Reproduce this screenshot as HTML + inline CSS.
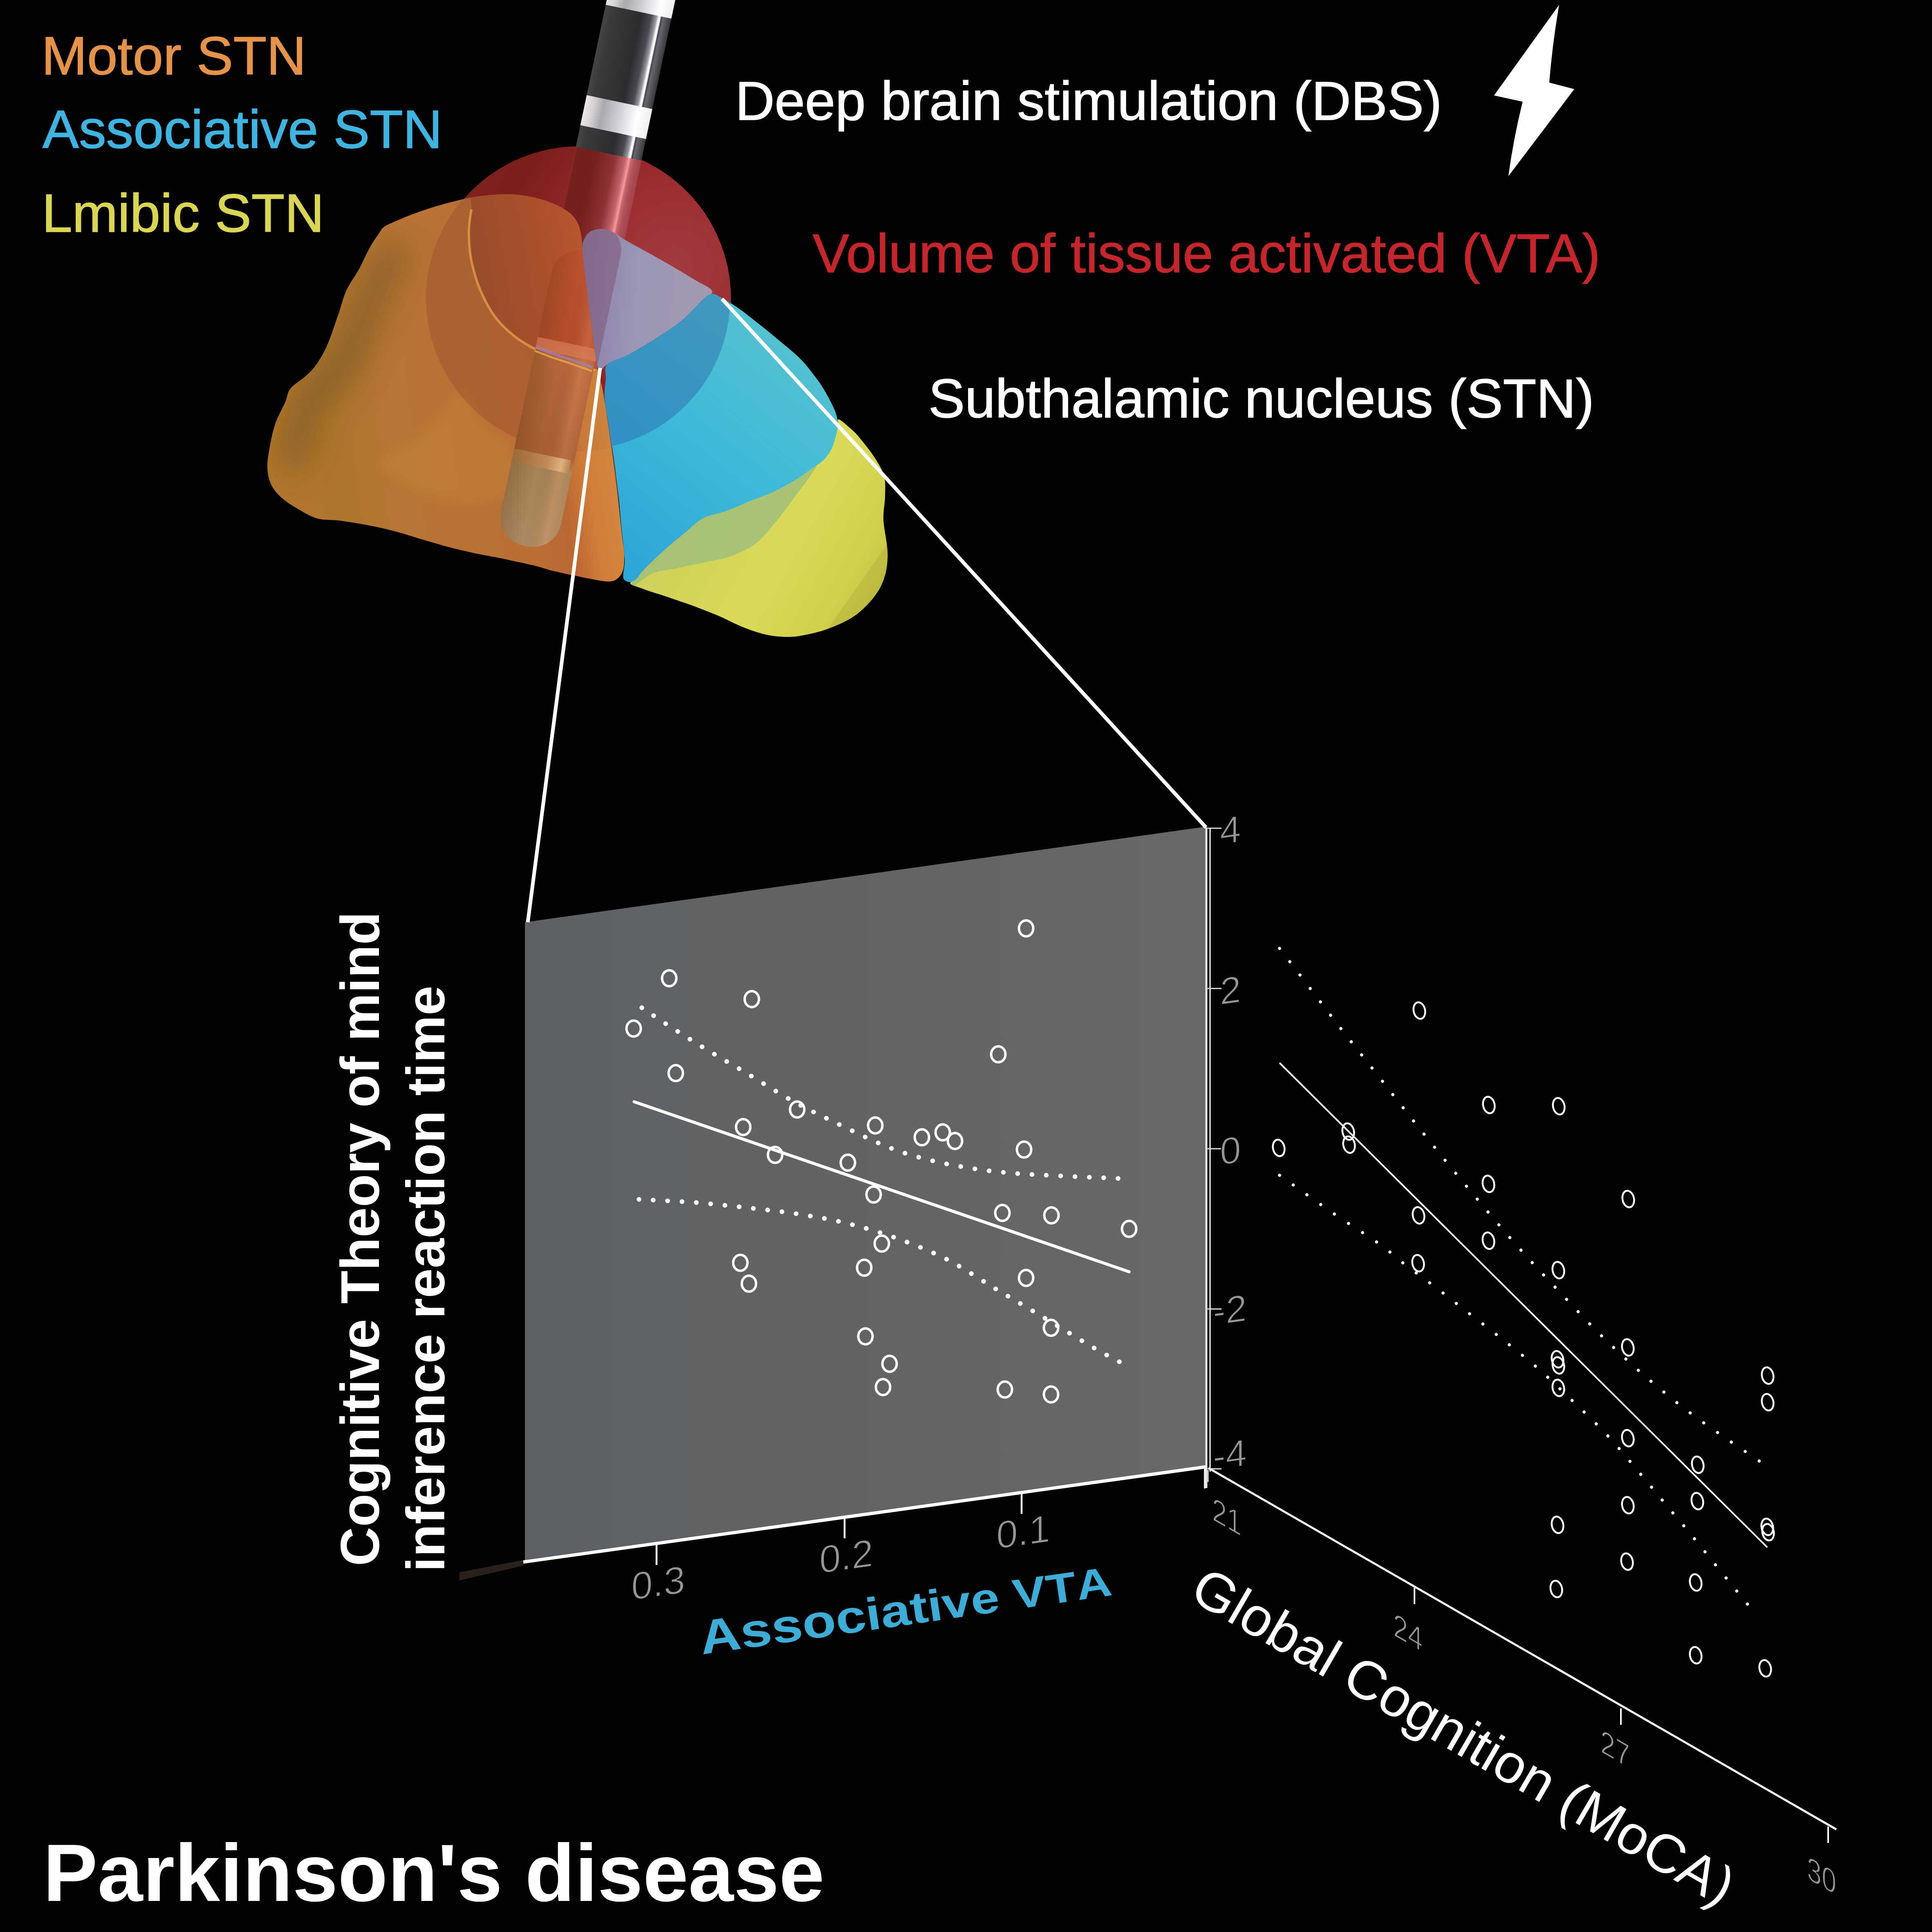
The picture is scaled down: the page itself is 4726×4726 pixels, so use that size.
<!DOCTYPE html>
<html><head><meta charset="utf-8"><title>Graphical abstract</title>
<style>
html,body{margin:0;padding:0;background:#000;}
body{width:4726px;height:4726px;overflow:hidden;font-family:"Liberation Sans",sans-serif;}
svg{display:block;}
text{font-family:"Liberation Sans",sans-serif;}
</style></head><body>
<svg width="4726" height="4726" viewBox="0 0 4726 4726">
<rect width="4726" height="4726" fill="#020202"/>
<defs>
<linearGradient id="gPanel" x1="0" y1="0" x2="1" y2="0"><stop offset="0" stop-color="#5E6163"/><stop offset="0.5" stop-color="#626365"/><stop offset="1" stop-color="#676869"/></linearGradient>
<radialGradient id="gSphere" gradientUnits="userSpaceOnUse" cx="1650" cy="650" r="620"><stop offset="0" stop-color="#A23A42"/><stop offset="0.35" stop-color="#9C2C2E"/><stop offset="0.7" stop-color="#7A1E1C"/><stop offset="1" stop-color="#842422"/></radialGradient>
<linearGradient id="gShaft" gradientUnits="userSpaceOnUse" x1="-81" y1="0" x2="83" y2="0"><stop offset="0" stop-color="#454547"/><stop offset="0.12" stop-color="#3A3A3C"/><stop offset="0.55" stop-color="#2C2C2F"/><stop offset="0.70" stop-color="#4A4A50"/><stop offset="0.78" stop-color="#9A9AA6"/><stop offset="0.815" stop-color="#FFFFFF"/><stop offset="0.835" stop-color="#F4F4FF"/><stop offset="0.85" stop-color="#404046"/><stop offset="0.88" stop-color="#66666E"/><stop offset="1" stop-color="#38383C"/></linearGradient>
<linearGradient id="gBand" gradientUnits="userSpaceOnUse" x1="-81" y1="0" x2="83" y2="0"><stop offset="0" stop-color="#ECE8E8"/><stop offset="0.12" stop-color="#D8D4D6"/><stop offset="0.28" stop-color="#A9A9AE"/><stop offset="0.55" stop-color="#D2D2DA"/><stop offset="0.8" stop-color="#FFFFFF"/><stop offset="1" stop-color="#EEEEEE"/></linearGradient>
<linearGradient id="gShaftRed" gradientUnits="userSpaceOnUse" x1="-81" y1="0" x2="83" y2="0"><stop offset="0" stop-color="#8A2C28"/><stop offset="0.03" stop-color="#74201E"/><stop offset="0.3" stop-color="#74201E"/><stop offset="0.6" stop-color="#8E3236"/><stop offset="0.76" stop-color="#C4646A"/><stop offset="0.82" stop-color="#F49C9E"/><stop offset="0.845" stop-color="#C86870"/><stop offset="0.9" stop-color="#B0525A"/><stop offset="1" stop-color="#A2424A"/></linearGradient>
<linearGradient id="gCone" gradientUnits="userSpaceOnUse" x1="1430" y1="700" x2="1740" y2="720"><stop offset="0" stop-color="#8E7FA6"/><stop offset="0.4" stop-color="#9A96B6"/><stop offset="1" stop-color="#A59AAE"/></linearGradient>
<linearGradient id="gBlue" gradientUnits="userSpaceOnUse" x1="1500" y1="1350" x2="1950" y2="800"><stop offset="0" stop-color="#2FA5D6"/><stop offset="0.5" stop-color="#3FB9DA"/><stop offset="1" stop-color="#55C3CE"/></linearGradient>
<linearGradient id="gYellow" gradientUnits="userSpaceOnUse" x1="1700" y1="1250" x2="2150" y2="1500"><stop offset="0" stop-color="#CFD258"/><stop offset="0.45" stop-color="#DADA5A"/><stop offset="0.8" stop-color="#D0D04E"/><stop offset="1" stop-color="#C2C244"/></linearGradient>
<linearGradient id="gOrange" gradientUnits="userSpaceOnUse" x1="700" y1="900" x2="1500" y2="800"><stop offset="0" stop-color="#B27630"/><stop offset="0.12" stop-color="#AE7530"/><stop offset="0.3" stop-color="#B87535"/><stop offset="0.7" stop-color="#BA6E34"/><stop offset="1" stop-color="#BC5A30"/></linearGradient>
<linearGradient id="gOrangeL" gradientUnits="userSpaceOnUse" x1="640" y1="0" x2="1000" y2="0"><stop offset="0" stop-color="#6E5A1E" stop-opacity="0.0"/><stop offset="0.25" stop-color="#6E5A1E" stop-opacity="0.42"/><stop offset="0.6" stop-color="#8A6A24" stop-opacity="0.15"/><stop offset="1" stop-color="#8A6A24" stop-opacity="0"/></linearGradient>
<linearGradient id="gInner" gradientUnits="userSpaceOnUse" x1="1150" y1="700" x2="1450" y2="650"><stop offset="0" stop-color="#8E4428" stop-opacity="0.75"/><stop offset="0.6" stop-color="#A84A2A" stop-opacity="0.7"/><stop offset="1" stop-color="#C0552E" stop-opacity="0.6"/></linearGradient>
<linearGradient id="gCapsX" gradientUnits="userSpaceOnUse" x1="-76" y1="0" x2="74" y2="0"><stop offset="0" stop-color="#5A3A10" stop-opacity="0.28"/><stop offset="0.45" stop-color="#5A3A10" stop-opacity="0.0"/><stop offset="0.8" stop-color="#FFB080" stop-opacity="0.22"/><stop offset="1" stop-color="#FFB080" stop-opacity="0.05"/></linearGradient>
<linearGradient id="gCapsBand" gradientUnits="userSpaceOnUse" x1="-76" y1="0" x2="66" y2="0"><stop offset="0" stop-color="#9A6A38"/><stop offset="0.6" stop-color="#C08A55"/><stop offset="0.85" stop-color="#E0B080"/><stop offset="1" stop-color="#B88450"/></linearGradient>
<linearGradient id="gCaps" gradientUnits="userSpaceOnUse" x1="0" y1="628" x2="0" y2="1365"><stop offset="0" stop-color="#BE512E"/><stop offset="0.31" stop-color="#B64C2C"/><stop offset="0.37" stop-color="#B8663A"/><stop offset="0.69" stop-color="#A85E34"/><stop offset="0.735" stop-color="#A68358"/><stop offset="1" stop-color="#AE8A62"/></linearGradient>
<clipPath id="cSphere"><circle cx="1416" cy="730" r="372"/></clipPath>
<clipPath id="cCone"><path d="M1425,600C1426,589 1429,586 1432,580C1435,574 1439,569 1445,566C1451,563 1461,560 1470,560C1479,560 1490,563 1500,568C1510,573 1512,577 1531,588C1550,599 1586,618 1614,634C1642,650 1676,670 1697,683C1718,696 1739,703 1742,712C1745,721 1729,723 1717,735C1705,747 1688,767 1670,782C1652,797 1632,810 1610,824C1588,838 1561,855 1540,866C1519,877 1498,884 1486,891C1474,898 1474,906 1470,905C1466,904 1462,902 1459,887C1456,872 1452,839 1449,814C1446,789 1442,764 1439,736C1436,708 1430,671 1428,648C1426,625 1424,611 1425,600Z"/></clipPath>
<clipPath id="cYellow"><path d="M2052,1026C2057,1027 2070,1039 2078,1046C2086,1053 2091,1057 2101,1069C2111,1081 2130,1104 2140,1120C2150,1136 2159,1150 2163,1166C2167,1182 2165,1196 2165,1213C2165,1230 2160,1252 2161,1271C2162,1290 2167,1313 2169,1329C2171,1345 2172,1355 2171,1368C2170,1381 2169,1394 2165,1407C2161,1420 2156,1434 2148,1446C2140,1458 2131,1470 2120,1481C2109,1492 2098,1502 2082,1512C2066,1522 2042,1532 2023,1539C2004,1546 1981,1551 1965,1554C1949,1557 1942,1558 1926,1558C1910,1558 1887,1556 1868,1551C1849,1546 1829,1539 1810,1531C1791,1523 1772,1512 1752,1504C1732,1496 1712,1488 1693,1481C1674,1474 1654,1468 1635,1461C1616,1454 1592,1448 1577,1442C1562,1436 1545,1432 1542,1428C1539,1424 1552,1421 1558,1415C1564,1409 1564,1404 1577,1391C1590,1378 1618,1352 1635,1337C1652,1322 1668,1310 1682,1298C1696,1286 1706,1275 1721,1267C1736,1259 1753,1258 1771,1252C1789,1246 1810,1236 1829,1228C1848,1220 1868,1214 1888,1205C1908,1196 1930,1184 1946,1174C1962,1164 1973,1155 1985,1147C1997,1139 2008,1132 2016,1124C2024,1116 2030,1106 2035,1096C2040,1086 2042,1074 2045,1065C2048,1056 2049,1046 2050,1040C2051,1034 2047,1025 2052,1026Z"/></clipPath>
<clipPath id="cBlue"><path d="M1486,891C1496,881 1519,877 1540,866C1561,855 1588,838 1610,824C1632,810 1652,797 1670,782C1688,767 1705,746 1717,735C1729,724 1732,720 1740,719C1748,718 1755,723 1768,730C1781,737 1803,751 1819,763C1835,775 1850,788 1866,800C1882,812 1896,825 1912,838C1928,851 1944,864 1959,879C1974,894 1989,915 2001,931C2013,947 2021,962 2029,977C2037,992 2044,1006 2047,1019C2050,1032 2052,1044 2050,1056C2048,1068 2043,1083 2038,1094C2033,1105 2027,1114 2020,1122C2013,1130 2006,1136 1996,1145C1986,1154 1973,1164 1959,1173C1945,1182 1928,1189 1912,1196C1896,1203 1882,1209 1866,1215C1850,1221 1834,1227 1819,1233C1804,1239 1788,1246 1773,1252C1758,1258 1740,1258 1726,1266C1712,1274 1703,1287 1689,1299C1675,1311 1658,1324 1642,1336C1626,1348 1608,1362 1596,1373C1584,1384 1574,1393 1568,1401C1562,1409 1565,1419 1558,1422C1551,1425 1531,1426 1526,1417C1521,1408 1529,1389 1528,1369C1527,1349 1524,1326 1521,1299C1518,1272 1516,1237 1512,1206C1508,1175 1504,1139 1500,1112C1496,1085 1492,1066 1489,1043C1486,1020 1480,992 1479,973C1478,954 1481,940 1482,926C1483,912 1476,901 1486,891Z"/></clipPath>
<clipPath id="cOrange"><path d="M941,554C950,548 966,542 982,535C998,528 1017,521 1034,515C1051,509 1069,504 1086,499C1103,494 1121,490 1138,486C1155,482 1173,480 1190,478C1207,476 1225,475 1241,475C1257,475 1271,477 1285,479C1299,481 1312,484 1325,488C1338,492 1354,498 1366,504C1378,510 1389,516 1397,524C1405,532 1411,540 1415,550C1419,560 1421,570 1423,586C1425,602 1425,623 1428,648C1431,673 1436,708 1439,736C1442,764 1446,789 1449,814C1452,839 1455,863 1459,887C1463,911 1471,937 1475,959C1479,981 1481,993 1485,1021C1489,1049 1497,1094 1501,1125C1505,1156 1508,1177 1511,1207C1514,1237 1518,1280 1521,1306C1524,1332 1527,1344 1527,1360C1527,1376 1527,1390 1522,1400C1517,1410 1509,1420 1495,1422C1481,1424 1456,1418 1440,1415C1424,1412 1415,1410 1400,1407C1385,1404 1364,1399 1351,1396C1338,1393 1338,1392 1320,1387C1302,1382 1263,1374 1241,1369C1219,1364 1207,1362 1190,1359C1173,1356 1155,1352 1138,1348C1121,1344 1103,1340 1086,1335C1069,1330 1051,1325 1034,1320C1017,1315 999,1309 982,1304C965,1299 948,1295 931,1291C914,1287 896,1284 879,1281C862,1278 844,1275 827,1273C810,1271 792,1273 775,1268C758,1263 739,1251 724,1242C709,1233 698,1226 687,1216C676,1206 666,1193 661,1180C656,1167 654,1154 654,1139C654,1124 658,1104 661,1087C664,1070 668,1052 674,1035C680,1018 692,997 698,983C704,969 702,961 711,950C720,939 738,929 749,919C760,909 766,903 775,890C784,877 792,863 801,843C810,823 819,793 827,771C835,749 839,728 848,709C857,690 870,674 879,657C888,640 897,619 905,605C913,591 919,582 925,574C931,566 932,560 941,554Z"/></clipPath>
<linearGradient id="gOrangeR" gradientUnits="userSpaceOnUse" x1="1370" y1="1150" x2="1500" y2="1130"><stop offset="0" stop-color="#F0A848" stop-opacity="0"/><stop offset="0.5" stop-color="#F0A848" stop-opacity="0.4"/><stop offset="1" stop-color="#E8B050" stop-opacity="0.5"/></linearGradient>
<filter id="fBlur2" x="-30%" y="-30%" width="160%" height="160%"><feGaussianBlur stdDeviation="12"/></filter>
<filter id="fBlur" x="-50%" y="-50%" width="200%" height="200%"><feGaussianBlur stdDeviation="40"/></filter>
</defs>
<g id="stn">
<circle cx="1416" cy="730" r="372" fill="url(#gSphere)"/>
<g transform="translate(1567,0) rotate(11.9)">
<rect x="-81" y="-120" width="164" height="505" fill="url(#gShaft)"/>
<rect x="-81" y="-120" width="164" height="149" fill="url(#gBand)"/>
<rect x="-81" y="255" width="164" height="75" fill="url(#gBand)"/>
</g>
<g clip-path="url(#cSphere)"><g transform="translate(1567,0) rotate(11.9)">
<rect x="-81" y="384" width="164" height="250" fill="url(#gShaftRed)"/>
</g></g>
<path d="M1425,600C1426,589 1429,586 1432,580C1435,574 1439,569 1445,566C1451,563 1461,560 1470,560C1479,560 1490,563 1500,568C1510,573 1512,577 1531,588C1550,599 1586,618 1614,634C1642,650 1676,670 1697,683C1718,696 1739,703 1742,712C1745,721 1729,723 1717,735C1705,747 1688,767 1670,782C1652,797 1632,810 1610,824C1588,838 1561,855 1540,866C1519,877 1498,884 1486,891C1474,898 1474,906 1470,905C1466,904 1462,902 1459,887C1456,872 1452,839 1449,814C1446,789 1442,764 1439,736C1436,708 1430,671 1428,648C1426,625 1424,611 1425,600Z" fill="url(#gCone)"/>
<g clip-path="url(#cCone)"><g transform="translate(1567,0) rotate(11.9)">
<rect x="-81" y="560" width="162" height="400" rx="60" fill="#7E5878" fill-opacity="0.55"/>
</g></g>
<path d="M1486,891C1496,881 1519,877 1540,866C1561,855 1588,838 1610,824C1632,810 1652,797 1670,782C1688,767 1705,746 1717,735C1729,724 1732,720 1740,719C1748,718 1755,723 1768,730C1781,737 1803,751 1819,763C1835,775 1850,788 1866,800C1882,812 1896,825 1912,838C1928,851 1944,864 1959,879C1974,894 1989,915 2001,931C2013,947 2021,962 2029,977C2037,992 2044,1006 2047,1019C2050,1032 2052,1044 2050,1056C2048,1068 2043,1083 2038,1094C2033,1105 2027,1114 2020,1122C2013,1130 2006,1136 1996,1145C1986,1154 1973,1164 1959,1173C1945,1182 1928,1189 1912,1196C1896,1203 1882,1209 1866,1215C1850,1221 1834,1227 1819,1233C1804,1239 1788,1246 1773,1252C1758,1258 1740,1258 1726,1266C1712,1274 1703,1287 1689,1299C1675,1311 1658,1324 1642,1336C1626,1348 1608,1362 1596,1373C1584,1384 1574,1393 1568,1401C1562,1409 1565,1419 1558,1422C1551,1425 1531,1426 1526,1417C1521,1408 1529,1389 1528,1369C1527,1349 1524,1326 1521,1299C1518,1272 1516,1237 1512,1206C1508,1175 1504,1139 1500,1112C1496,1085 1492,1066 1489,1043C1486,1020 1480,992 1479,973C1478,954 1481,940 1482,926C1483,912 1476,901 1486,891Z" fill="url(#gBlue)"/>
<g clip-path="url(#cBlue)">
<circle cx="1416" cy="730" r="370" fill="#2E5FA8" fill-opacity="0.42"/>
</g>
<path d="M2052,1026C2057,1027 2070,1039 2078,1046C2086,1053 2091,1057 2101,1069C2111,1081 2130,1104 2140,1120C2150,1136 2159,1150 2163,1166C2167,1182 2165,1196 2165,1213C2165,1230 2160,1252 2161,1271C2162,1290 2167,1313 2169,1329C2171,1345 2172,1355 2171,1368C2170,1381 2169,1394 2165,1407C2161,1420 2156,1434 2148,1446C2140,1458 2131,1470 2120,1481C2109,1492 2098,1502 2082,1512C2066,1522 2042,1532 2023,1539C2004,1546 1981,1551 1965,1554C1949,1557 1942,1558 1926,1558C1910,1558 1887,1556 1868,1551C1849,1546 1829,1539 1810,1531C1791,1523 1772,1512 1752,1504C1732,1496 1712,1488 1693,1481C1674,1474 1654,1468 1635,1461C1616,1454 1592,1448 1577,1442C1562,1436 1545,1432 1542,1428C1539,1424 1552,1421 1558,1415C1564,1409 1564,1404 1577,1391C1590,1378 1618,1352 1635,1337C1652,1322 1668,1310 1682,1298C1696,1286 1706,1275 1721,1267C1736,1259 1753,1258 1771,1252C1789,1246 1810,1236 1829,1228C1848,1220 1868,1214 1888,1205C1908,1196 1930,1184 1946,1174C1962,1164 1973,1155 1985,1147C1997,1139 2008,1132 2016,1124C2024,1116 2030,1106 2035,1096C2040,1086 2042,1074 2045,1065C2048,1056 2049,1046 2050,1040C2051,1034 2047,1025 2052,1026Z" fill="url(#gYellow)"/>
<g clip-path="url(#cYellow)"><path d="M1540,1440C1537,1437 1561,1403 1577,1385C1593,1367 1618,1346 1635,1330C1652,1314 1668,1303 1682,1292C1696,1281 1706,1270 1721,1262C1736,1254 1753,1253 1771,1246C1789,1239 1810,1230 1829,1222C1848,1214 1868,1208 1888,1199C1908,1190 1927,1180 1946,1168C1965,1156 1994,1131 2000,1130C2006,1129 1994,1146 1985,1160C1976,1174 1960,1194 1946,1213C1932,1232 1915,1256 1899,1275C1883,1294 1867,1315 1849,1329C1831,1343 1810,1352 1790,1360C1770,1368 1754,1369 1732,1374C1710,1379 1678,1385 1655,1390C1632,1395 1616,1394 1597,1402C1578,1410 1543,1443 1540,1440Z" fill="#9CBE7C" fill-opacity="0.8"/>
<path d="M2010,1560 L2171,1330 L2171,1560 Z" fill="#A8A838" fill-opacity="0.35"/></g>
<path d="M941,554C950,548 966,542 982,535C998,528 1017,521 1034,515C1051,509 1069,504 1086,499C1103,494 1121,490 1138,486C1155,482 1173,480 1190,478C1207,476 1225,475 1241,475C1257,475 1271,477 1285,479C1299,481 1312,484 1325,488C1338,492 1354,498 1366,504C1378,510 1389,516 1397,524C1405,532 1411,540 1415,550C1419,560 1421,570 1423,586C1425,602 1425,623 1428,648C1431,673 1436,708 1439,736C1442,764 1446,789 1449,814C1452,839 1455,863 1459,887C1463,911 1471,937 1475,959C1479,981 1481,993 1485,1021C1489,1049 1497,1094 1501,1125C1505,1156 1508,1177 1511,1207C1514,1237 1518,1280 1521,1306C1524,1332 1527,1344 1527,1360C1527,1376 1527,1390 1522,1400C1517,1410 1509,1420 1495,1422C1481,1424 1456,1418 1440,1415C1424,1412 1415,1410 1400,1407C1385,1404 1364,1399 1351,1396C1338,1393 1338,1392 1320,1387C1302,1382 1263,1374 1241,1369C1219,1364 1207,1362 1190,1359C1173,1356 1155,1352 1138,1348C1121,1344 1103,1340 1086,1335C1069,1330 1051,1325 1034,1320C1017,1315 999,1309 982,1304C965,1299 948,1295 931,1291C914,1287 896,1284 879,1281C862,1278 844,1275 827,1273C810,1271 792,1273 775,1268C758,1263 739,1251 724,1242C709,1233 698,1226 687,1216C676,1206 666,1193 661,1180C656,1167 654,1154 654,1139C654,1124 658,1104 661,1087C664,1070 668,1052 674,1035C680,1018 692,997 698,983C704,969 702,961 711,950C720,939 738,929 749,919C760,909 766,903 775,890C784,877 792,863 801,843C810,823 819,793 827,771C835,749 839,728 848,709C857,690 870,674 879,657C888,640 897,619 905,605C913,591 919,582 925,574C931,566 932,560 941,554Z" fill="url(#gOrange)"/>
<g clip-path="url(#cOrange)">
<path d="M975,600C968,612 947,647 935,670C923,693 915,716 905,740C895,764 885,791 875,815C865,839 858,865 845,885C832,905 814,920 800,935C786,950 770,959 760,975C750,991 744,1010 738,1030C732,1050 726,1075 722,1095C718,1115 716,1141 715,1150" fill="none" stroke="#5C4A16" stroke-opacity="0.5" stroke-width="75" filter="url(#fBlur)"/>
<path d="M930,1130C928,1110 985,1100 1010,1080C1035,1060 1060,1030 1080,1010C1100,990 1113,955 1130,960C1147,965 1160,1018 1180,1040C1200,1062 1238,1063 1250,1090C1262,1117 1267,1177 1250,1200C1233,1223 1188,1230 1150,1230C1112,1230 1057,1217 1020,1200C983,1183 932,1150 930,1130Z" fill="#C98A40" fill-opacity="0.35" filter="url(#fBlur2)"/>
<circle cx="1416" cy="730" r="374" fill="#9A4E2E" fill-opacity="0.42"/>
<path d="M1153,512C1151,536 1147,544 1147,565C1147,586 1148,613 1153,637C1158,661 1165,687 1175,710C1185,733 1197,756 1211,775C1225,794 1242,809 1258,822C1274,835 1292,845 1307,853C1322,861 1333,863 1349,869C1365,875 1385,881 1403,887C1421,893 1438,912 1457,906C1476,900 1506,901 1520,850C1534,799 1552,675 1540,600C1528,525 1493,437 1450,400C1407,363 1328,377 1280,380C1232,383 1181,398 1160,420C1139,442 1155,488 1153,512Z" fill="url(#gInner)"/>
<path d="M1153,512C1152,521 1147,544 1147,565C1147,586 1148,613 1153,637C1158,661 1165,687 1175,710C1185,733 1197,756 1211,775C1225,794 1242,809 1258,822C1274,835 1292,845 1307,853C1322,861 1333,863 1349,869C1365,875 1385,881 1403,887C1421,893 1448,903 1457,906" fill="none" stroke="#E8A048" stroke-opacity="0.75" stroke-width="6"/>
<path d="M1440,900 L1470,905 L1530,1360 L1525,1430 L1330,1420 L1330,900 Z" fill="url(#gOrangeR)"/>
<g transform="translate(1567,0) rotate(11.9)">
<rect x="-76" y="628" width="150" height="737" rx="70" fill="url(#gCaps)"/>
<rect x="-76" y="628" width="150" height="737" rx="70" fill="url(#gCapsX)"/>
<rect x="-76" y="858" width="150" height="30" fill="#E08060" fill-opacity="0.6"/>
<rect x="-76" y="1137" width="142" height="33" fill="url(#gCapsBand)"/>
</g>
<path d="M1310,849C1317,852 1336,859 1352,865C1368,871 1390,877 1406,883C1422,889 1443,896 1450,899" fill="none" stroke="#A080B0" stroke-opacity="0.8" stroke-width="7"/>
<path d="M1308,858C1315,861 1334,868 1350,874C1366,880 1388,886 1404,892C1420,898 1441,905 1448,908" fill="none" stroke="#E8A848" stroke-opacity="0.8" stroke-width="5"/>
</g>
</g>
<g id="chart">
<path d="M1284,2256 L2951,2022 L2951,3589 L1284,3821 Z" fill="url(#gPanel)"/>
<path d="M1124,3846 L1280,3816 L1280,3830 L1124,3866 Z" fill="#2A201C"/>
<path d="M1280,3821 L2951,3588" stroke="#fff" stroke-width="8" fill="none"/>
<path d="M2951,2024 L2951,3640" stroke="#E8E8E8" stroke-width="5" fill="none"/>
<path d="M2960,2026 L2960,3600" stroke="#fff" stroke-width="3" fill="none"/>
<path d="M2955,3596 L2955,3625" stroke="#ddd" stroke-width="3" fill="none"/>
<line x1="1468" y1="900" x2="1291" y2="2256" stroke="#fff" stroke-width="9"/>
<line x1="1766" y1="731" x2="2950" y2="2024" stroke="#fff" stroke-width="9"/>
<path d="M2954,2026 L2988,2026" stroke="#ddd" stroke-width="3"/>
<text transform="matrix(1,-0.14,0,1,2984,2066)" font-size="93" fill="#969696" stroke="#020202" stroke-width="2">4</text>
<path d="M2954,2418 L2988,2418" stroke="#ddd" stroke-width="3"/>
<text transform="matrix(1,-0.14,0,1,2984,2458)" font-size="93" fill="#969696" stroke="#020202" stroke-width="2">2</text>
<path d="M2954,2810 L2988,2810" stroke="#ddd" stroke-width="3"/>
<text transform="matrix(1,-0.14,0,1,2984,2850)" font-size="93" fill="#969696" stroke="#020202" stroke-width="2">0</text>
<path d="M2954,3202 L2988,3202" stroke="#ddd" stroke-width="3"/>
<text transform="matrix(1,-0.14,0,1,2967,3242)" font-size="93" fill="#969696" stroke="#020202" stroke-width="2">-2</text>
<path d="M2954,3593 L2988,3593" stroke="#ddd" stroke-width="3"/>
<text transform="matrix(1,-0.14,0,1,2967,3596)" font-size="93" fill="#969696" stroke="#020202" stroke-width="2">-4</text>
<path d="M1606,3776 L1606,3828" stroke="#fff" stroke-width="4.5"/>
<text transform="matrix(1,-0.14,0,1,1544,3914)" font-size="95" fill="#969696" stroke="#020202" stroke-width="2">0.3</text>
<path d="M2066,3711 L2066,3763" stroke="#fff" stroke-width="4.5"/>
<text transform="matrix(1,-0.14,0,1,2004,3849)" font-size="95" fill="#969696" stroke="#020202" stroke-width="2">0.2</text>
<path d="M2499,3651 L2499,3703" stroke="#fff" stroke-width="4.5"/>
<text transform="matrix(1,-0.14,0,1,2437,3789)" font-size="95" fill="#969696" stroke="#020202" stroke-width="2">0.1</text>
<text transform="translate(1717,4047) rotate(-8.2) scale(1.19,1)" font-weight="bold" fill="#3DADD8" xml:space="preserve"><tspan font-size="117.0">A</tspan><tspan font-size="115.9">s</tspan><tspan font-size="114.7">s</tspan><tspan font-size="113.6">o</tspan><tspan font-size="112.4">c</tspan><tspan font-size="111.3">i</tspan><tspan font-size="110.1">a</tspan><tspan font-size="109.0">t</tspan><tspan font-size="107.9">i</tspan><tspan font-size="106.7">v</tspan><tspan font-size="105.6">e</tspan><tspan font-size="104.4">&#160;</tspan><tspan font-size="103.3">V</tspan><tspan font-size="102.1">T</tspan><tspan font-size="101.0">A</tspan></text>
<text transform="translate(927,3831) rotate(-90)" font-size="132.8" font-weight="bold" fill="#fff">Cognitive Theory of mind</text>
<text transform="translate(1087,3845) rotate(-90)" font-size="131" font-weight="bold" fill="#fff">inference reaction time</text>
<g fill="none" stroke="#fff" stroke-width="6">
<ellipse cx="2510" cy="2271" rx="17.5" ry="19.5"/>
<ellipse cx="1637" cy="2393" rx="17.5" ry="19.5"/>
<ellipse cx="1839" cy="2444" rx="17.5" ry="19.5"/>
<ellipse cx="1550" cy="2516" rx="17.5" ry="19.5"/>
<ellipse cx="2442" cy="2579" rx="17.5" ry="19.5"/>
<ellipse cx="1653" cy="2625" rx="17.5" ry="19.5"/>
<ellipse cx="1950" cy="2714" rx="17.5" ry="19.5"/>
<ellipse cx="2141" cy="2753" rx="17.5" ry="19.5"/>
<ellipse cx="1818" cy="2757" rx="17.5" ry="19.5"/>
<ellipse cx="2255" cy="2782" rx="17.5" ry="19.5"/>
<ellipse cx="2306" cy="2770" rx="17.5" ry="19.5"/>
<ellipse cx="2336" cy="2791" rx="17.5" ry="19.5"/>
<ellipse cx="2505" cy="2812" rx="17.5" ry="19.5"/>
<ellipse cx="1896" cy="2825" rx="17.5" ry="19.5"/>
<ellipse cx="2074" cy="2844" rx="17.5" ry="19.5"/>
<ellipse cx="2137" cy="2922" rx="17.5" ry="19.5"/>
<ellipse cx="2452" cy="2967" rx="17.5" ry="19.5"/>
<ellipse cx="2572" cy="2973" rx="17.5" ry="19.5"/>
<ellipse cx="2762" cy="3006" rx="17.5" ry="19.5"/>
<ellipse cx="2157" cy="3042" rx="17.5" ry="19.5"/>
<ellipse cx="1811" cy="3089" rx="17.5" ry="19.5"/>
<ellipse cx="2114" cy="3101" rx="17.5" ry="19.5"/>
<ellipse cx="1832" cy="3140" rx="17.5" ry="19.5"/>
<ellipse cx="2510" cy="3126" rx="17.5" ry="19.5"/>
<ellipse cx="2571" cy="3248" rx="17.5" ry="19.5"/>
<ellipse cx="2117" cy="3269" rx="17.5" ry="19.5"/>
<ellipse cx="2176" cy="3336" rx="17.5" ry="19.5"/>
<ellipse cx="2160" cy="3393" rx="17.5" ry="19.5"/>
<ellipse cx="2458" cy="3399" rx="17.5" ry="19.5"/>
<ellipse cx="2571" cy="3411" rx="17.5" ry="19.5"/>
</g>
<line x1="1551" y1="2695" x2="2762" y2="3111" stroke="#fff" stroke-width="7.5" stroke-linecap="round"/>
<path d="M1570,2465C1590,2479 1652,2520 1694,2546C1735,2572 1777,2596 1818,2620C1859,2645 1901,2672 1942,2695C1984,2718 2025,2737 2066,2757C2108,2777 2149,2798 2191,2813C2232,2828 2273,2838 2315,2847C2356,2855 2398,2862 2439,2866C2480,2871 2509,2872 2563,2875C2617,2878 2729,2882 2762,2884" fill="none" stroke="#fff" stroke-width="11.5" stroke-linecap="round" stroke-dasharray="0.1 35"/>
<path d="M1563,2934C1585,2935 1651,2938 1694,2941C1736,2944 1777,2949 1818,2953C1859,2958 1901,2962 1942,2968C1984,2975 2025,2981 2066,2991C2108,3001 2149,3013 2191,3028C2232,3043 2273,3059 2315,3080C2356,3101 2398,3130 2439,3155C2480,3179 2522,3204 2563,3229C2605,3254 2654,3285 2688,3304C2721,3323 2750,3337 2762,3343" fill="none" stroke="#fff" stroke-width="11.5" stroke-linecap="round" stroke-dasharray="0.1 35"/>
<path d="M2956,3591 L4492,4475" stroke="#fff" stroke-width="5" fill="none"/>
<path d="M2947,3590 L2947,3641" stroke="#eee" stroke-width="4" fill="none"/>
<path d="M3460,3884 L3460,3924" stroke="#fff" stroke-width="4"/>
<path d="M3965,4179 L3965,4219" stroke="#fff" stroke-width="4"/>
<path d="M4472,4468 L4472,4508" stroke="#fff" stroke-width="4"/>
<text transform="matrix(0.8,0.46,0,1,2965,3717)" font-size="81" fill="#969696" stroke="#020202" stroke-width="2">21</text>
<text transform="matrix(0.8,0.46,0,1,3408,4000)" font-size="81" fill="#969696" stroke="#020202" stroke-width="2">24</text>
<text transform="matrix(0.8,0.46,0,1,3915,4285)" font-size="81" fill="#969696" stroke="#020202" stroke-width="2">27</text>
<text transform="matrix(0.8,0.46,0,1,4420,4595)" font-size="81" fill="#969696" stroke="#020202" stroke-width="2">30</text>
<text transform="translate(2905,3909) rotate(30.1) scale(1.02,1)" font-size="133" fill="#fff">Global Cognition (MoCA)</text>
<g fill="none" stroke="#fff" stroke-width="4.5">
<ellipse cx="3472" cy="2472" rx="14" ry="20.5" transform="rotate(-12 3472 2472)"/>
<ellipse cx="3642" cy="2703" rx="14" ry="20.5" transform="rotate(-12 3642 2703)"/>
<ellipse cx="3813" cy="2706" rx="14" ry="20.5" transform="rotate(-12 3813 2706)"/>
<ellipse cx="3128" cy="2808" rx="14" ry="20.5" transform="rotate(-12 3128 2808)"/>
<ellipse cx="3298" cy="2768" rx="14" ry="20.5" transform="rotate(-12 3298 2768)"/>
<ellipse cx="3300" cy="2800" rx="14" ry="20.5" transform="rotate(-12 3300 2800)"/>
<ellipse cx="3641" cy="2896" rx="14" ry="20.5" transform="rotate(-12 3641 2896)"/>
<ellipse cx="3983" cy="2933" rx="14" ry="20.5" transform="rotate(-12 3983 2933)"/>
<ellipse cx="3470" cy="2973" rx="14" ry="20.5" transform="rotate(-12 3470 2973)"/>
<ellipse cx="3641" cy="3035" rx="14" ry="20.5" transform="rotate(-12 3641 3035)"/>
<ellipse cx="3469" cy="3090" rx="14" ry="20.5" transform="rotate(-12 3469 3090)"/>
<ellipse cx="3812" cy="3107" rx="14" ry="20.5" transform="rotate(-12 3812 3107)"/>
<ellipse cx="3982" cy="3296" rx="14" ry="20.5" transform="rotate(-12 3982 3296)"/>
<ellipse cx="3810" cy="3325" rx="14" ry="20.5" transform="rotate(-12 3810 3325)"/>
<ellipse cx="3812" cy="3340" rx="14" ry="20.5" transform="rotate(-12 3812 3340)"/>
<ellipse cx="3812" cy="3395" rx="14" ry="20.5" transform="rotate(-12 3812 3395)"/>
<ellipse cx="4324" cy="3365" rx="14" ry="20.5" transform="rotate(-12 4324 3365)"/>
<ellipse cx="4324" cy="3430" rx="14" ry="20.5" transform="rotate(-12 4324 3430)"/>
<ellipse cx="3982" cy="3518" rx="14" ry="20.5" transform="rotate(-12 3982 3518)"/>
<ellipse cx="4153" cy="3583" rx="14" ry="20.5" transform="rotate(-12 4153 3583)"/>
<ellipse cx="4152" cy="3672" rx="14" ry="20.5" transform="rotate(-12 4152 3672)"/>
<ellipse cx="3982" cy="3682" rx="14" ry="20.5" transform="rotate(-12 3982 3682)"/>
<ellipse cx="3810" cy="3730" rx="14" ry="20.5" transform="rotate(-12 3810 3730)"/>
<ellipse cx="4323" cy="3735" rx="14" ry="20.5" transform="rotate(-12 4323 3735)"/>
<ellipse cx="4325" cy="3748" rx="14" ry="20.5" transform="rotate(-12 4325 3748)"/>
<ellipse cx="3980" cy="3820" rx="14" ry="20.5" transform="rotate(-12 3980 3820)"/>
<ellipse cx="3807" cy="3887" rx="14" ry="20.5" transform="rotate(-12 3807 3887)"/>
<ellipse cx="4148" cy="3871" rx="14" ry="20.5" transform="rotate(-12 4148 3871)"/>
<ellipse cx="4148" cy="4049" rx="14" ry="20.5" transform="rotate(-12 4148 4049)"/>
<ellipse cx="4318" cy="4081" rx="14" ry="20.5" transform="rotate(-12 4318 4081)"/>
</g>
<line x1="3130" y1="2600" x2="4323" y2="3785" stroke="#fff" stroke-width="4"/>
<path d="M3130,2320C3152,2348 3220,2438 3260,2490C3300,2542 3333,2583 3370,2630C3407,2677 3443,2724 3480,2770C3517,2816 3553,2861 3590,2905C3627,2949 3663,2993 3700,3035C3737,3077 3772,3115 3810,3155C3848,3195 3887,3238 3925,3275C3963,3312 4001,3347 4040,3380C4079,3413 4113,3441 4160,3475C4207,3509 4293,3567 4320,3585" fill="none" stroke="#fff" stroke-width="7.5" stroke-linecap="round" stroke-dasharray="0.1 41"/>
<path d="M3130,2875C3150,2889 3210,2932 3250,2960C3290,2988 3340,3019 3370,3040C3400,3061 3408,3071 3430,3088C3452,3105 3473,3120 3500,3140C3527,3160 3560,3187 3590,3210C3620,3233 3651,3257 3680,3280C3709,3303 3737,3325 3765,3350C3793,3375 3821,3402 3850,3430C3879,3458 3911,3488 3940,3520C3969,3552 3998,3588 4025,3620C4052,3652 4072,3677 4100,3710C4128,3743 4158,3780 4190,3820C4222,3860 4278,3928 4295,3949" fill="none" stroke="#fff" stroke-width="7.5" stroke-linecap="round" stroke-dasharray="0.1 41"/>
</g>
<g id="labels">
<text transform="translate(101.5,182) scale(1.0225,1)" font-size="131" fill="#E5924B" stroke="#E5924B" stroke-width="1.6">Motor STN</text>
<text transform="translate(104,362) scale(1.018,1)" font-size="131" fill="#40B4E0" stroke="#40B4E0" stroke-width="1.6">Associative STN</text>
<text transform="translate(102.5,567) scale(1.02,1)" font-size="131" fill="#DAD655" stroke="#DAD655" stroke-width="1.6">Lmibic STN</text>
<text x="1798.4" y="292.5" font-size="133.5" fill="#FFFFFF" stroke="#FFFFFF" stroke-width="1.6">Deep brain stimulation (DBS)</text>
<text x="1988" y="666" font-size="133.5" fill="#C4262C" stroke="#C4262C" stroke-width="1.6">Volume of tissue activated (VTA)</text>
<text x="2271" y="1021" font-size="133.8" fill="#FFFFFF" stroke="#FFFFFF" stroke-width="1.6">Subthalamic nucleus (STN)</text>
<text transform="translate(105.5,4650) scale(1.008,1)" font-size="198" font-weight="bold" fill="#FFFFFF">Parkinson's disease</text>
<path d="M3813.8,12 Q3797,110 3789.8,202 L3851,218 L3689.7,431 Q3702,340 3724.6,248.7 L3654.7,233.6 Z" fill="#FFFFFF"/>
</g>
</svg>
</body></html>
